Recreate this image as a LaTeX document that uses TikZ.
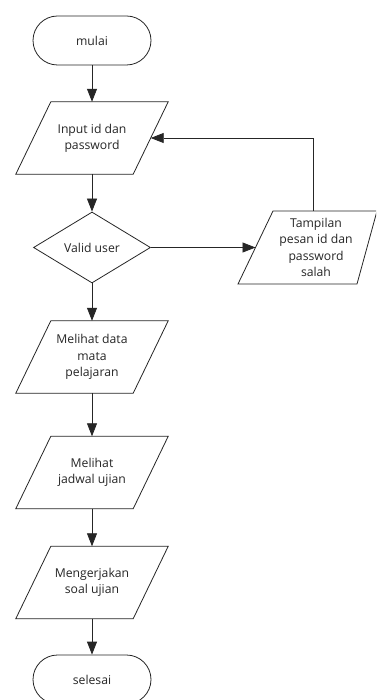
\documentclass[tikz,border=0pt]{standalone}
\usepackage{fontspec}
\setmainfont{Open Sans}
\usetikzlibrary{shapes.geometric,arrows.meta}
\newcommand{\iodraw}[1]{%
  \draw[line] ([xshift=-17.5pt]#1.south west) -- ([xshift=-17.5pt]#1.south east)
    -- ([xshift=17.5pt]#1.north east) -- ([xshift=17.5pt]#1.north west) -- cycle;}
\begin{document}
\begin{tikzpicture}[x=1pt,y=-1pt,
  line/.style={line width=0.8pt, draw=black!85},
  arr/.style={line, -{Triangle[length=13pt,width=10pt]}},
  txt/.style={font=\fontsize{12.2}{16.3}\selectfont, align=center, text=black!85},
  term/.style={txt, line, rectangle, rounded corners=24.5pt, minimum width=118pt, minimum height=49pt, inner sep=0pt},
  iobox/.style={txt, rectangle, minimum width=117pt, minimum height=72pt, inner sep=0pt},
  decision/.style={txt, line, diamond, minimum width=117pt, minimum height=71pt, inner sep=0pt, aspect=1.65}]
\useasboundingbox (0,0) rectangle (376,700);
\clip (0,0) rectangle (376,700);
\fill[white] (0,0) rectangle (376,700);

\node[term] (mulai) at (92,40.5) {mulai};
\node[iobox] (p1) at (92,138) {Input id dan\\password};
\iodraw{p1}
\node[decision] (valid) at (92,247.5) {Valid user};
\node[iobox] (p2) at (92,357) {Melihat data\\mata\\pelajaran};
\iodraw{p2}
\node[iobox] (p3) at (92,472.5) {Melihat\\jadwal ujian};
\iodraw{p3}
\node[iobox] (p4) at (92,582.5) {Mengerjakan\\soal ujian};
\iodraw{p4}
\node[term] (selesai) at (92,679.5) {selesai};

% error output box
\coordinate (t1) at (273,211);
\coordinate (t2) at (377,211);
\coordinate (t3) at (357,284);
\coordinate (t4) at (238,284);
\draw[line] (t1) -- (t2) -- (t3) -- (t4) -- cycle;
\node[txt, inner sep=0pt] (salah) at (316,247.5) {Tampilan\\pesan id dan\\password\\salah};
\coordinate (tin) at (255.5,247.5);
\coordinate (tout) at (313,211);

\draw[arr] (mulai) -- (p1);
\draw[arr] (p1) -- (valid);
\draw[arr] (valid) -- (p2);
\draw[arr] (p2) -- (p3);
\draw[arr] (p3) -- (p4);
\draw[arr] (p4) -- (selesai);
\draw[arr] (valid.east) -- (tin);
\draw[arr] (tout) |- (p1.east);
\end{tikzpicture}
\end{document}
